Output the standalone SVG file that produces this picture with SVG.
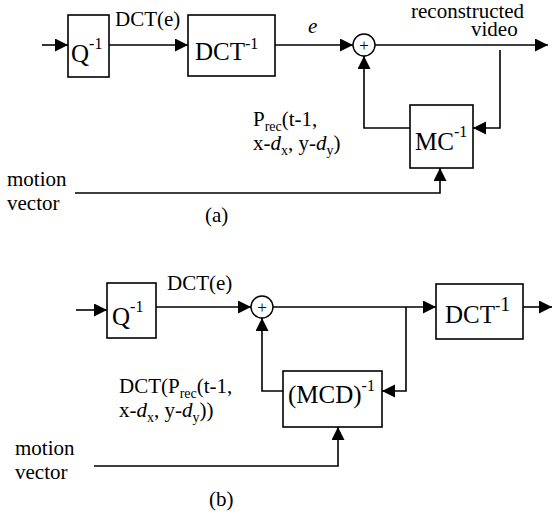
<svg xmlns="http://www.w3.org/2000/svg" width="553" height="518" viewBox="0 0 553 518">
<style>
text{font-family:"Liberation Serif","Times New Roman",serif;fill:#000}
.box{fill:#fff;stroke:#000;stroke-width:1.6}
.ln{fill:none;stroke:#000;stroke-width:1.6}
.big{font-size:25px}
.lbl{font-size:21px}
.sup{font-size:16px}
.sub{font-size:14px}
.sum{fill:#fff;stroke:#000;stroke-width:1.4}
</style>
<defs>
<marker id="ah" markerUnits="userSpaceOnUse" markerWidth="14" markerHeight="14" refX="13" refY="6.5" orient="auto">
<path d="M0,0 L13,6.5 L0,13 z" fill="#000"/>
</marker>
</defs>
<rect width="553" height="518" fill="#fff"/>
<g id="connectors">
<path class="ln" d="M42,45 H68" marker-end="url(#ah)"/>
<path class="ln" d="M109,45 H188" marker-end="url(#ah)"/>
<path class="ln" d="M275,45 H353" marker-end="url(#ah)"/>
<path class="ln" d="M375,45 H548" marker-end="url(#ah)"/>
<path class="ln" d="M500,50 V128 H473" marker-end="url(#ah)"/>
<path class="ln" d="M410,128 H364 V56" marker-end="url(#ah)"/>
<path class="ln" d="M75,193 H440 V168" marker-end="url(#ah)"/>
<path class="ln" d="M76,310 H107" marker-end="url(#ah)"/>
<path class="ln" d="M156,307 H251" marker-end="url(#ah)"/>
<path class="ln" d="M273,307 H436" marker-end="url(#ah)"/>
<path class="ln" d="M523,307 H552" marker-end="url(#ah)"/>
<path class="ln" d="M406,307 V391 H382" marker-end="url(#ah)"/>
<path class="ln" d="M283,391 H262 V318" marker-end="url(#ah)"/>
<path class="ln" d="M94,466 H338 V427" marker-end="url(#ah)"/>
</g>
<g id="a-q">
<rect class="box" x="68" y="15" width="41" height="62"/>
<text class="big" x="71" y="62">Q<tspan class="sup" dy="-13">-1</tspan></text>
</g>
<g id="a-dct">
<rect class="box" x="188" y="15" width="87" height="61"/>
<text class="big" x="195" y="60">DCT<tspan class="sup" dy="-11">-1</tspan></text>
</g>
<g id="a-sum">
<circle class="sum" cx="364" cy="45" r="11"/>
<text x="364" y="51" font-size="17" text-anchor="middle">+</text>
</g>
<g id="a-mc">
<rect class="box" x="410" y="105" width="63" height="63"/>
<text class="big" x="415" y="150">MC<tspan class="sup" dy="-13">-1</tspan></text>
</g>
<g id="a-labels">
<text class="lbl" x="115" y="26">DCT(e)</text>
<text class="lbl" x="308" y="33" font-style="italic">e</text>
<text class="lbl" x="411" y="18">reconstructed</text>
<text class="lbl" x="471" y="36">video</text>
<text class="lbl" font-size="22" x="253" y="126">P<tspan class="sub" dy="5">rec</tspan><tspan dy="-5">(t-1,</tspan></text>
<text class="lbl" font-size="22" x="253" y="150">x-<tspan font-style="italic">d</tspan><tspan class="sub" dy="5">x</tspan><tspan dy="-5">, y-</tspan><tspan font-style="italic">d</tspan><tspan class="sub" dy="5">y</tspan><tspan dy="-5">)</tspan></text>
<text class="lbl" x="7" y="186">motion</text>
<text class="lbl" x="7" y="210">vector</text>
<text class="lbl" x="205" y="222">(a)</text>
</g>
<g id="b-q">
<rect class="box" x="107" y="283" width="49" height="55"/>
<text class="big" x="112" y="325">Q<tspan class="sup" dy="-13">-1</tspan></text>
</g>
<g id="b-sum">
<circle class="sum" cx="262" cy="307" r="11"/>
<text x="262" y="313" font-size="17" text-anchor="middle">+</text>
</g>
<g id="b-dct">
<rect class="box" x="436" y="284" width="87" height="55"/>
<text class="big" x="445" y="323">DCT<tspan class="sup" dy="-12">-</tspan><tspan font-size="20">1</tspan></text>
</g>
<g id="b-mcd">
<rect class="box" x="283" y="371" width="99" height="56"/>
<text class="big" x="288" y="403">(MCD)<tspan class="sup" dy="-12">-1</tspan></text>
</g>
<g id="b-labels">
<text class="lbl" x="167" y="290">DCT(e)</text>
<text class="lbl" x="119" y="393">DCT(P<tspan class="sub" dy="5">rec</tspan><tspan dy="-5">(t-1,</tspan></text>
<text class="lbl" x="119" y="417">x-<tspan font-style="italic">d</tspan><tspan class="sub" dy="5">x</tspan><tspan dy="-5">, y-</tspan><tspan font-style="italic">d</tspan><tspan class="sub" dy="5">y</tspan><tspan dy="-5">))</tspan></text>
<text class="lbl" x="15" y="455">motion</text>
<text class="lbl" x="15" y="479">vector</text>
<text class="lbl" x="209" y="506">(b)</text>
</g>
</svg>
